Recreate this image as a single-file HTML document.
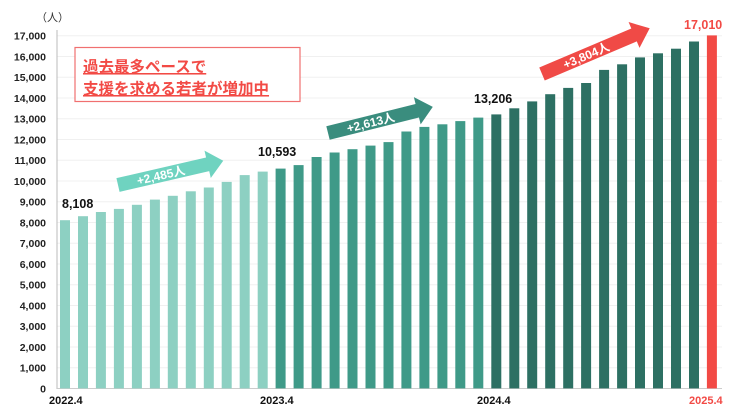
<!DOCTYPE html><html><head><meta charset="utf-8"><style>body{margin:0;background:#fff}svg{display:block}text{font-family:"Liberation Sans","Noto Sans CJK JP",sans-serif}</style></head><body>
<svg width="736" height="414" viewBox="0 0 736 414" xmlns="http://www.w3.org/2000/svg">
<text x="36" y="21" font-size="11" fill="#333">（人）</text>
<g stroke="#f0f0f0" stroke-width="1">
<line x1="57" x2="722" y1="35.7" y2="35.7"/><line x1="57" x2="722" y1="56.5" y2="56.5"/><line x1="57" x2="722" y1="77.2" y2="77.2"/><line x1="57" x2="722" y1="98" y2="98"/><line x1="57" x2="722" y1="118.7" y2="118.7"/><line x1="57" x2="722" y1="139.5" y2="139.5"/><line x1="57" x2="722" y1="160.2" y2="160.2"/><line x1="57" x2="722" y1="181" y2="181"/><line x1="57" x2="722" y1="201.7" y2="201.7"/><line x1="57" x2="722" y1="222.5" y2="222.5"/><line x1="57" x2="722" y1="243.2" y2="243.2"/><line x1="57" x2="722" y1="264" y2="264"/><line x1="57" x2="722" y1="284.7" y2="284.7"/><line x1="57" x2="722" y1="305.5" y2="305.5"/><line x1="57" x2="722" y1="326.2" y2="326.2"/><line x1="57" x2="722" y1="347" y2="347"/><line x1="57" x2="722" y1="367.7" y2="367.7"/>
</g>
<line x1="57" y1="30" x2="57" y2="389" stroke="#bbb"/>
<line x1="57" y1="388.5" x2="722" y2="388.5" stroke="#ccc"/>
<g font-size="10.5" font-weight="bold" fill="#222" text-anchor="end">
<text x="46" y="39.5">17,000</text><text x="46" y="60.3">16,000</text><text x="46" y="81">15,000</text><text x="46" y="101.8">14,000</text><text x="46" y="122.5">13,000</text><text x="46" y="143.3">12,000</text><text x="46" y="164">11,000</text><text x="46" y="184.8">10,000</text><text x="46" y="205.5">9,000</text><text x="46" y="226.3">8,000</text><text x="46" y="247">7,000</text><text x="46" y="267.8">6,000</text><text x="46" y="288.5">5,000</text><text x="46" y="309.3">4,000</text><text x="46" y="330">3,000</text><text x="46" y="350.8">2,000</text><text x="46" y="371.5">1,000</text><text x="46" y="392.3">0</text>
</g>
<g fill="#8dd0c2">
<rect x="60.0" y="220.2" width="10" height="168.2"/><rect x="78.0" y="216.2" width="10" height="172.2"/><rect x="95.9" y="212.0" width="10" height="176.4"/><rect x="113.9" y="208.9" width="10" height="179.5"/><rect x="131.9" y="204.8" width="10" height="183.6"/><rect x="149.9" y="199.6" width="10" height="188.8"/><rect x="167.8" y="195.8" width="10" height="192.6"/><rect x="185.8" y="191.3" width="10" height="197.1"/><rect x="203.8" y="187.5" width="10" height="200.9"/><rect x="221.7" y="181.9" width="10" height="206.5"/><rect x="239.7" y="175.1" width="10" height="213.3"/><rect x="257.7" y="171.6" width="10" height="216.8"/>
</g>
<g fill="#3f9a88">
<rect x="275.6" y="168.6" width="10" height="219.8"/><rect x="293.6" y="165.1" width="10" height="223.3"/><rect x="311.6" y="157.0" width="10" height="231.4"/><rect x="329.6" y="152.5" width="10" height="235.9"/><rect x="347.5" y="149.2" width="10" height="239.2"/><rect x="365.5" y="145.6" width="10" height="242.8"/><rect x="383.5" y="142.1" width="10" height="246.3"/><rect x="401.4" y="131.5" width="10" height="256.9"/><rect x="419.4" y="126.9" width="10" height="261.5"/><rect x="437.4" y="124.3" width="10" height="264.1"/><rect x="455.3" y="121.1" width="10" height="267.3"/><rect x="473.3" y="117.6" width="10" height="270.8"/>
</g>
<g fill="#2d7063">
<rect x="491.3" y="114.4" width="10" height="274.0"/><rect x="509.3" y="108.3" width="10" height="280.1"/><rect x="527.2" y="101.4" width="10" height="287.0"/><rect x="545.2" y="94.2" width="10" height="294.2"/><rect x="563.2" y="87.9" width="10" height="300.5"/><rect x="581.1" y="83.0" width="10" height="305.4"/><rect x="599.1" y="69.9" width="10" height="318.5"/><rect x="617.1" y="64.3" width="10" height="324.1"/><rect x="635.0" y="57.4" width="10" height="331.0"/><rect x="653.0" y="53.3" width="10" height="335.1"/><rect x="671.0" y="48.7" width="10" height="339.7"/><rect x="689.0" y="41.5" width="10" height="346.9"/>
</g>
<rect x="706.9" y="35.4" width="10" height="353.0" fill="#f24a45"/>
<g font-size="11" font-weight="bold" fill="#111">
<text x="49" y="404">2022.4</text><text x="260" y="404">2023.4</text><text x="477" y="404">2024.4</text><text x="689" y="404" fill="#f24a45">2025.4</text>
</g>
<g font-size="12.5" font-weight="bold" fill="#111">
<text x="62" y="208">8,108</text><text x="258" y="156">10,593</text><text x="474" y="103">13,206</text><text x="684" y="29" fill="#f24a45">17,010</text>
</g>
<rect x="75" y="47.5" width="225" height="54" fill="#fff" stroke="#f07070" stroke-width="1.2"/>
<g font-size="15.5" font-weight="bold" fill="#f24a45" text-decoration="underline">
<text x="83" y="72">過去最多ペースで</text><text x="83" y="94">支援を求める若者が増加中</text>
</g>
<g transform="translate(118,185) rotate(-13)">
<polygon points="0,-7 92,-7 92,-14 108,0 92,14 92,7 0,7" fill="#6fd3c0"/>
<text x="44" y="4.5" font-size="12" font-weight="bold" fill="#fff" text-anchor="middle">+2,485人</text></g>
<g transform="translate(328,133) rotate(-14)">
<polygon points="0,-7 92,-7 92,-14 108,0 92,14 92,7 0,7" fill="#3a8d7e"/>
<text x="44" y="4.5" font-size="12" font-weight="bold" fill="#fff" text-anchor="middle">+2,613人</text></g>
<g transform="translate(542,74) rotate(-23)">
<polygon points="0,-7 100,-7 100,-14 117,0 100,14 100,7 0,7" fill="#f04a46"/>
<text x="48" y="4.5" font-size="12" font-weight="bold" fill="#fff" text-anchor="middle">+3,804人</text></g>
</svg>
</body></html>
